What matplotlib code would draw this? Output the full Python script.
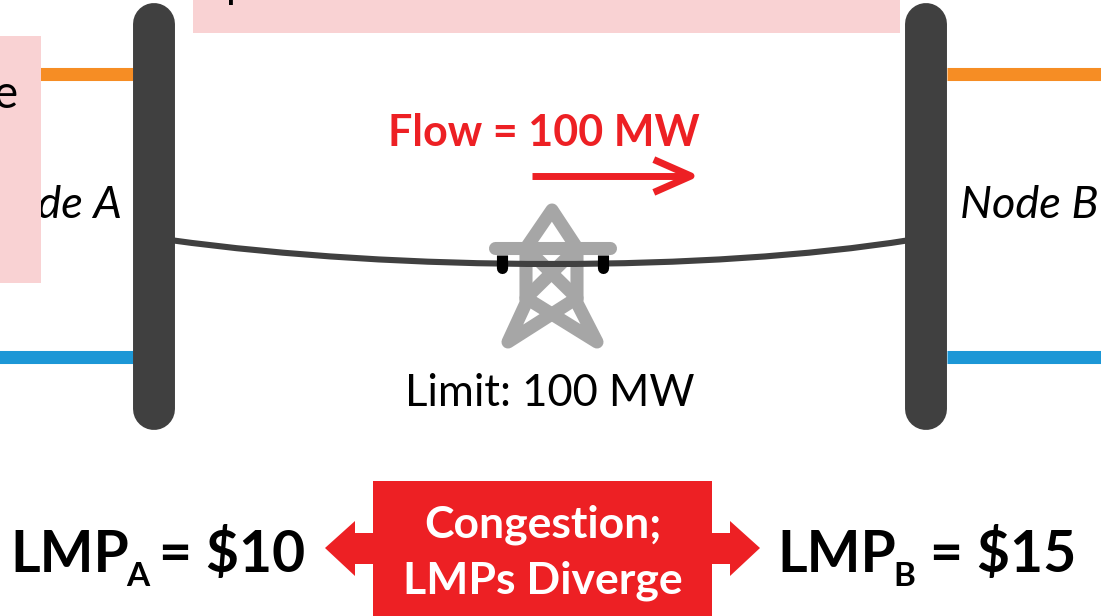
import matplotlib
matplotlib.use("Agg")
import matplotlib.pyplot as plt
from matplotlib.patches import PathPatch, Polygon, Rectangle
from matplotlib.path import Path

plt.rcParams['font.family'] = ['Lato', 'DejaVu Sans']

RED = "#ed2024"
DARK = "#404040"
GREY = "#a6a6a6"
PINK = "#f9d2d3"
ORANGE = "#f68d24"
BLUE = "#1c97d6"

# bus bars, feeder stubs and cover boxes, in image pixels
bus_x = [154, 926]
feeders = [(-5, 133, 73.5, ORANGE), (947, 1106, 73.5, ORANGE),
           (-5, 133, 357, BLUE), (947, 1106, 357, BLUE)]
pink_boxes = [(193, -5, 707, 38), (-5, 36, 46, 247)]

# transmission tower strokes
tower_lines = [
    [(495, 248), (610, 248)],
    [(526, 248), (552, 210), (577, 248)],
    [(526, 248), (526, 303), (508, 342), (577, 298), (526, 248)],
    [(577, 248), (577, 303), (597, 342), (526, 298), (577, 248)],
]
insulators = [501.5, 603]

fig = plt.figure(figsize=(11.01, 6.16), dpi=100)
ax = fig.add_axes([0, 0, 1, 1])
ax.set_xlim(0, 1101)
ax.set_ylim(616, 0)
ax.axis("off")

for x0, x1, y, c in feeders:
    ax.plot([x0, x1], [y, y], color=c, lw=9.4, solid_capstyle="butt", zorder=1)

ax.text(122, 206, "Node A", style="italic", fontsize=32.5, ha="right", va="center", zorder=1)
ax.text(1098, 206, "Node B", style="italic", fontsize=32.5, ha="right", va="center", zorder=1)

for x, y, w, h in pink_boxes:
    ax.add_patch(Rectangle((x, y), w, h, fc=PINK, ec="none", zorder=2))
ax.text(5, 95, "e", fontsize=33, ha="center", va="center", zorder=3)
ax.text(238, -14, "p", fontsize=31, ha="center", va="center", zorder=3)

for line in tower_lines:
    xs, ys = zip(*line)
    ax.plot(xs, ys, color=GREY, lw=9.4, solid_capstyle="round", solid_joinstyle="round", zorder=3)

wire = Path([(170, 240), (400, 272), (710, 272), (910, 240)],
            [Path.MOVETO, Path.CURVE4, Path.CURVE4, Path.CURVE4])
ax.add_patch(PathPatch(wire, fc="none", ec=DARK, lw=4.4, zorder=4))

for x in insulators:
    ax.plot([x, x], [255, 268], color="black", lw=8, solid_capstyle="butt", zorder=5)
    ax.plot([x, x], [263, 268], color="black", lw=8, solid_capstyle="round", zorder=5)

for x in bus_x:
    ax.plot([x, x], [24, 409], color=DARK, lw=30.2, solid_capstyle="round", zorder=6)

ax.text(544, 133, "Flow = 100 MW", color=RED, weight="bold", fontsize=31, ha="center", va="center", zorder=7)
ax.plot([532, 688], [176, 176], color=RED, lw=5, solid_capstyle="butt", zorder=7)
ax.plot([657, 691, 657], [161, 176, 191], color=RED, lw=5, zorder=7)
ax.text(549.5, 393, "Limit: 100 MW", fontsize=31.4, ha="center", va="center", zorder=7)

# congestion box with double arrow
ax.add_patch(Polygon([(325, 548), (355, 521), (355, 533), (730, 533), (730, 521), (760, 548),
                      (730, 576), (730, 564), (355, 564), (355, 576)], fc=RED, ec="none", zorder=7))
ax.add_patch(Rectangle((373, 481), 339, 135, fc=RED, ec="none", zorder=7))
ax.text(543, 525, "Congestion;", color="white", weight="bold", fontsize=32, ha="center", va="center", zorder=8)
ax.text(543, 581, "LMPs Diverge", color="white", weight="bold", fontsize=32, ha="center", va="center", zorder=8)

ax.text(10, 572, "LMP", weight="bold", fontsize=41, ha="left", va="baseline", zorder=8)
ax.text(126, 586, "A", weight="bold", fontsize=24, ha="left", va="baseline", zorder=8)
ax.text(305, 572, "= $10", weight="bold", fontsize=41, ha="right", va="baseline", zorder=8, parse_math=False)
ax.text(777, 572, "LMP", weight="bold", fontsize=41, ha="left", va="baseline", zorder=8)
ax.text(893, 586, "B", weight="bold", fontsize=24, ha="left", va="baseline", zorder=8)
ax.text(1076, 572, "= $15", weight="bold", fontsize=41, ha="right", va="baseline", zorder=8, parse_math=False)

fig.savefig("out.png", dpi=100)
